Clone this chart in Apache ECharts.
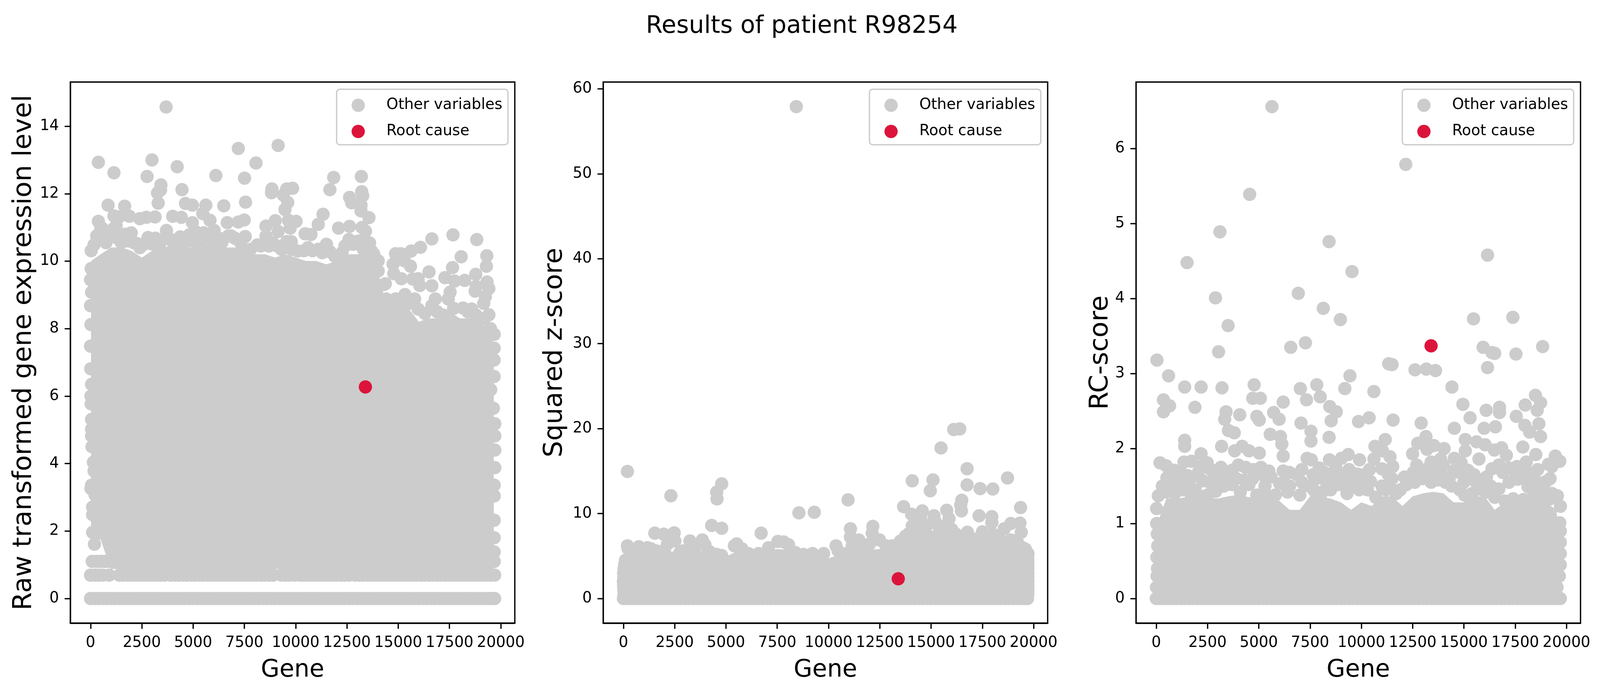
<!DOCTYPE html>
<html><head><meta charset="utf-8">
<script src="https://cdn.jsdelivr.net/npm/echarts@6/dist/echarts.min.js"></script>
<style>html,body{margin:0;padding:0;background:#fff;overflow:hidden}#c{width:100vw;height:100vh}</style>
</head><body><div id="c"></div>
<script>
const titleText = 'Results of patient R98254';
const xName = 'Gene';
const yNames = ['Raw transformed gene expression level', 'Squared z-score', 'RC-score'];
const legendNames = ['Other variables', 'Root cause'];
const geneTicks = [0,2500,5000,7500,10000,12500,15000,17500,20000];
const rawTicks = [0,2,4,6,8,10,12,14];
const zTicks = [0,10,20,30,40,50,60];
const rcTicks = [0,1,2,3,4,5,6];

const rootRaw = [[13400,6.27]];
const rootZ = [[13400,2.32]];
const rootRC = [[13399,3.37]];

/* genes of the solid horizontal rows of marks */
const fullRowGenes = [0,200,400,600,800,1000,1200,1400,1600,1800,2000,2200,2400,2600,2800,3000,3200,3400,3600,3800,4000,4200,4400,4600,4800,5000,5200,5400,5600,5800,6000,6200,6400,6600,6800,7000,7200,7400,7600,7800,8000,8200,8400,8600,8800,9000,9200,9400,9600,9800,10000,10200,10400,10600,10800,11000,11200,11400,11600,11800,12000,12200,12400,12600,12800,13000,13200,13400,13600,13800,14000,14200,14400,14600,14800,15000,15200,15400,15600,15800,16000,16200,16400,16600,16800,17000,17200,17400,17600,17800,18000,18200,18400,18600,18800,19000,19200,19400,19600,19700];
const rawRowOne = [0,200,400,600,900,1400,1600,1800,2000,2200,2400,2600,2800,3000,3200,3400,3600,3900,4100,4300,4500,4700,4900,5100,5300,5500,5700,5900,6100,6300,6500,6700,6900,7100,7300,7500,7700,7900,8100,8300,8500,8700,8900,9300,9500,9700,9950,10200,10400,10600,10800,11000,11200,11400,11600,11800,12000,12200,12400,12600,12900,13100,13300,13500,13700,13900,14100,14300,14500,14700,14900,15100,15300,15500,15700,15900,16100,16300,16500,16700,16900,17100,17300,17500,17700,17900,18100,18300,18500,18700,18900,19100,19300,19500,19700];
const rawRowTwo = [80,300,500,700,900,1100,1300,1500,1700,1900,2100,2300,2500,2700,2900,3100,3300,3500,3700,3900,4100,4300,4500,4700,4900,5100,5300,5500,5700,5900,6100,6300,6500,6700,6900,7100,7300,7500,7700,7900,8100,8300,8500,8700,8900,9100,9300,9500,9700,9900,10100,10300,10500,10700,10900,11100,11300,11500,11700,11900,12100,12300,12500,12700,12900,13100,13300,13500,13700,13900,14100,14300,14500,14700,14900,15100,15300,15500,15700,15900,16100,16300,16500,16700,16900,17100,17300,17500,17700,17900,18100,18300,18500,18700,18900,19100,19300,19500,19680];

/* solid core of each panel, read as gene / low / high */
const coreGenes = [30,500,1000,1500,2000,2500,3000,3500,4000,4500,5000,5500,6000,6500,7000,7500,8000,8500,9000,9500,10000,10500,11000,11500,12000,12500,13000,13500,14000,14500,15000,15500,16000,16500,17000,17500,18000,18500,19000,19500,19650];
const rawLow = [1.75,1.75,0.88,0.88,0.88,0.88,0.88,0.88,0.88,0.88,0.88,0.88,0.88,0.88,0.88,0.88,0.88,0.88,0.88,0.88,0.88,0.88,0.88,0.88,0.88,0.88,0.88,0.88,0.88,0.88,0.88,0.88,0.88,0.88,0.88,0.88,0.88,0.88,0.88,0.88,0.88];
const rawHigh = [10,10.2,10.4,10.4,10.3,10.1,10.3,10.5,10.3,10.4,10.4,10.5,10.5,10.4,10.4,10.4,10.2,10.2,10.1,10.2,10.1,10,10,9.9,10,10.2,10.2,10.2,9.7,8.5,8.6,8.6,8.2,8.3,8.3,8.5,8.3,8.3,8.2,7.9,7.5];
const zLow = [0,0,0,0,0,0,0,0,0,0,0,0,0,0,0,0,0,0,0,0,0,0,0,0,0,0,0,0,0,0,0,0,0,0,0,0,0,0,0,0,0];
const zHigh = [4,5.5,5.5,5.3,5.5,5.5,5.3,5.6,5.6,5.2,4.9,5.5,5.2,5.1,5.5,5.8,5.7,5,4.9,5,4.7,5.1,5.2,5.9,5.7,5.8,5.5,6.3,7.3,8.1,8,7.9,7.6,6.8,6.7,6.7,6.7,6.3,6.3,5.5,4.8];
const rcLow = zLow;
const rcHigh = [0.98,1.33,1.33,1.35,1.35,1.34,1.33,1.36,1.38,1.35,1.33,1.32,1.3,1.18,1.18,1.36,1.36,1.33,1.28,1.18,1.28,1.23,1.36,1.36,1.23,1.36,1.4,1.42,1.4,1.28,1.28,1.36,1.36,1.18,1.28,1.28,1.33,1.36,1.28,1.18,0.78];

const rawPoints = [[3684,14.57],[382,12.93],[1140,12.62],[2993,13],[2757,12.51],[4223,12.8],[3431,12.26],[3414,12.11],[3263,12.02],[3297,11.72],[4458,12.12],[6110,12.54],[7205,13.34],[7508,12.46],[8066,12.91],[9146,13.43],[8842,12.14],[8825,12.03],[9851,12.16],[9564,12.14],[9396,11.96],[11855,12.48],[11670,12.12],[13203,12.51],[13220,12.06],[13270,11.94],[12630,11.89],[12730,11.73],[13186,11.66],[13186,11.49],[13572,11.29],[854,11.66],[1663,11.63],[1140,11.34],[1390,11.31],[1896,11.33],[382,11.18],[553,10.98],[2403,11.26],[2723,11.3],[3145,11.31],[4004,11.33],[4425,11.3],[4964,11.14],[4627,11.71],[4964,11.66],[5621,11.66],[5470,11.41],[5823,11.21],[6496,11.64],[7557,11.75],[6665,11.14],[7205,11.16],[7491,11.22],[8552,11.04],[9007,11.2],[9480,11.53],[9615,11.74],[9648,11.21],[10020,11.18],[9146,10.88],[9733,10.98],[10460,10.81],[10745,10.79],[11335,11.39],[11100,11.09],[12090,10.98],[12630,11.03],[13237,11],[13405,10.89],[16640,10.66],[17670,10.78],[18830,10.64],[16085,10.41],[15630,10.3],[15125,10.22],[14870,10.22],[15300,10.01],[15600,9.85],[18070,10.13],[19320,10.16],[19300,9.85],[14750,9.91],[14785,9.63],[15155,9.48],[16500,9.68],[17650,9.81],[17280,9.51],[17750,9.41],[18240,9.43],[18780,9.61],[18800,9.25],[18750,9.11],[19330,9.38],[19420,9.19],[15710,9.47],[15970,9.48],[16050,9.28],[16640,9.27],[16810,8.88],[16640,8.68],[14370,9.33],[17530,9.08],[17440,8.88],[19250,8.95],[19170,8.75],[14420,8.88],[14870,8.88],[15330,9.01],[15800,8.88],[15970,8.58],[18160,8.61],[18580,8.58],[19420,8.41],[19680,7.83],
[30,10.31],[165,10.48],[635,10.68],[938,10.84],[1308,10.68],[1982,10.84],[2235,10.53],[2993,10.51],[3162,10.68],[3700,10.91],[4173,10.54],[4375,10.72],[4813,10.78],[5520,10.84],[6026,10.91],[6700,10.74],[7036,10.68],[7541,10.73],[8131,10.48],[8552,10.74],[8889,10.54],[9310,10.35],[9565,10.58],[9785,10.58],[10405,10.31],[10826,10.31],[11500,10.5],[11670,10.28],[12260,10.25],[12597,10.64],[12968,10.58],[13604,10.54],[13806,10.21],[14025,10.01],[14025,9.71],[14311,9.31],
[14700,8.6],[15100,8.7],[15500,8.75],[16300,8.45],[16900,8.5],[17200,8.4],[17700,8.6],[18400,8.5],[18800,8.4],[19200,8.3],[19500,8.0],
[30,9.78],[0,9.45],[50,9.08],[0,8.68],[20,8.12],[0,7.48],[10,6.81],[50,6.35],[20,6],[30,5.77],[50,5.31],[50,5.02],[50,4.82],[70,4.5],[140,4.04],[170,3.78],[50,3.36],[20,3.26],[220,3.07],[100,2.71],[100,2.48],[100,1.96],[190,1.61],
[19676,7.42],[19676,7.07],[19676,6.58],[19508,6.19],[19640,5.64],[19710,5.18],[19710,4.82],[19710,4.4],[19710,3.88],[19680,3.36],[19680,3.04],[19680,2.32],[19680,1.8],[19680,1.38],
[300,10.75],[500,11],[750,10.55],[1100,10.95],[1250,11.05],[1500,10.55],[1700,10.8],[1850,10.6],[2100,10.55],[2400,10.4],[2600,10.5],[2800,10.7],[3350,10.45],[3550,10.65],[3900,10.65],[4050,10.4],[4600,10.55],[5000,10.6],[5200,10.85],[5350,10.6],[5700,10.75],[5900,10.65],[6200,10.7],[6400,10.55],[6850,10.75],[7250,10.6],[7400,10.4],[7800,10.35],[8300,10.45],[8700,10.45],[9100,10.45],[9800,10.35],[10100,10.3],[10600,10.4],[11100,10.35],[11300,10.25],[11900,10.15],[12400,10.45],[12800,10.5],[13100,10.6],[13300,10.35],[13450,10.55],[13700,10.3]];

const zPoints = [[8430,57.9],[196,14.96],[2315,12.09],[4548,12.52],[4564,11.72],[4792,13.5],[4303,8.6],[4792,8.26],[1532,7.69],[1972,7.57],[2478,7.73],[2152,6.43],[2510,6.77],[6715,7.69],[8557,10.08],[9307,10.15],[10953,11.61],[11068,8.21],[11068,7.23],[12160,8.49],[12127,7.69],[13660,10.81],[14083,13.85],[15094,13.96],[14963,12.68],[14050,9.92],[14572,10.31],[14490,9.4],[14083,8.55],[15142,9.74],[15224,8.94],[15485,17.72],[16105,19.89],[16398,19.96],[16756,15.28],[16756,13.37],[17392,12.93],[18011,12.89],[18728,14.19],[16496,11.56],[16447,10.99],[16480,10.31],[15762,10.38],[15876,9.4],[16007,8.14],[17344,9.74],[17963,9.63],[17963,8.94],[19365,10.7],[19332,8.87],[18890,8.83],[18565,8.21],[19397,7.8],[16772,7.8],[17506,7.85],[13757,7.34],[18890,6.89],
[228,5.86],[196,6.2],[750,6.09],[1174,5.98],[1336,5.86],[3244,6.77],[3847,6.89],[3977,6.32],[2755,5.41],[4548,5.18],[4792,5.06],[5526,6.43],[5412,6.2],[5770,5.86],[6096,5.29],[6585,5.29],[7074,5.98],[7530,6.71],[7808,6.66],[8052,6.32],[8378,5.41],[8785,5.18],[9225,5.29],[9763,5.29],[10366,6.2],[10464,5.63],[10904,5.29],[11150,6.2],[11476,6.89],[12486,6.89],[13105,6.2],[13513,6.77],[19723,5.29],[19462,5.98],
[14400,8.3],[14800,8.6],[15400,8.4],[15700,8.5],[16200,7.6],[17000,6.9],[18200,7.2],[18000,7.6],[19000,6.8],
[30,0.5],[20,1],[10,1.5],[0,2],[20,2.5],[10,3],[30,3.5],[60,4],[100,4.5],[19720,0.5],[19720,1],[19720,1.5],[19720,2],[19720,2.5],[19720,3],[19720,3.5],[19720,4],[19720,4.5],[19710,5],
[500,5.7],[950,5.6],[1600,5.6],[2000,5.7],[2900,5.6],[3500,6.1],[3300,5.8],[4200,5.5],[13900,7.6],[14200,8],[15700,8.1],[16400,7.2],[17200,7],[17800,7],[18400,6.8],[19200,6.7],[19600,5.8],[12800,6.2],[12000,6.4],[11700,6.3],[11300,6.1]];

const rcPoints = [[5640,6.56],[12164,5.79],[4555,5.39],[3104,4.89],[8426,4.76],[1502,4.48],[16152,4.58],[9544,4.36],[6925,4.07],[2887,4.01],[8143,3.87],[8977,3.72],[3504,3.64],[15468,3.73],[17387,3.75],[7275,3.41],[6558,3.35],[3037,3.29],[33,3.18],[15935,3.35],[16369,3.28],[16500,3.27],[17537,3.26],[18838,3.36],[11330,3.13],[11497,3.12],[12615,3.05],[13165,3.06],[13616,3.04],[16152,3.08],[600,2.97],[9444,2.97],
[1385,2.82],[2186,2.82],[3204,2.81],[4772,2.85],[7025,2.8],[7826,2.85],[9194,2.8],[14417,2.82],[10612,2.76],[350,2.65],[651,2.57],[350,2.49],[1886,2.55],[4705,2.67],[5073,2.67],[7325,2.65],[7993,2.69],[6190,2.62],[14950,2.59],[18488,2.71],[18738,2.61],[17987,2.58],[18571,2.51],[16085,2.51],[16736,2.55],[16736,2.48],[8460,2.56],[8777,2.49],[8527,2.37],[3404,2.49],[3337,2.39],[4071,2.45],[4905,2.43],[5022,2.38],[5723,2.48],[5990,2.39],[7058,2.34],[7542,2.23],[9861,2.36],[10379,2.41],[11547,2.38],[12915,2.34],[15301,2.41],[14533,2.27],[15985,2.27],[16536,2.29],[17553,2.43],[17970,2.31],[18655,2.33],[18204,2.22],[18738,2.16],[3520,2.24],[3804,2.21],[5556,2.19],[6057,2.16],[7542,2.1],[8426,2.15],[1385,2.11],[1385,2.03],[6124,2.06],[3187,2.03],[11163,2.12],[13148,2.16],[15067,2.12],[15618,2.09],[16035,2.05],[12748,2.07],[14033,2],[13532,2.04],[13198,1.99],[17871,2.02],[16486,1.98],[16836,2.01],[10662,2.03],[15067,1.97],[17070,1.91],[18505,1.92],[19456,1.9],[12498,1.93],[5022,1.94],[2186,1.93],[4188,2.03],[3821,1.97],[4522,1.97],[6190,1.9],[9361,1.92],[11030,1.97],[11397,1.89],[13866,1.86],[15735,1.86],[14533,1.87],
[184,1.81],[484,1.77],[884,1.71],[1352,1.82],[1719,1.83],[2486,1.81],[2186,1.76],[3154,1.75],[3688,1.71],[7358,1.87],[7559,1.85],[8443,1.85],[9027,1.87],[9911,1.85],[10612,1.86],[11530,1.76],[11000,1.73],[12698,1.78],[13616,1.81],[14867,1.81],[14533,1.71],[15200,1.71],[16703,1.78],[16369,1.73],[17587,1.76],[17203,1.74],[19122,1.79],[19289,1.76],[19673,1.83],[18037,1.82],[5106,1.75],[5490,1.7],[5190,1.65],[6190,1.7],[7943,1.74],[517,1.61],[1519,1.64],[2269,1.57],[2853,1.63],[6858,1.65],[10195,1.66],[9161,1.66],[12531,1.68],[13165,1.68],[13866,1.67],[11497,1.6],[17620,1.59],[18288,1.67],[19005,1.56],[6023,1.53],[12198,1.52],[9661,1.56],[7442,1.5],[10445,1.56],[18121,1.49],[16703,1.46],[18872,1.46],[4522,1.52],[15033,1.38],[100,1.37],[19556,1.37],[17,1.2],[19706,1.23],[19673,1.01],
[500,1.42],[900,1.4],[1300,1.45],[1700,1.33],[2100,1.37],[2500,1.38],[2900,1.43],[3300,1.5],[3700,1.52],[4100,1.42],[4900,1.38],[5400,1.37],[5800,1.38],[6400,1.42],[7000,1.38],[7700,1.44],[8100,1.42],[8500,1.45],[8900,1.52],[9300,1.4],[9900,1.45],[10700,1.35],[11200,1.45],[11700,1.4],[12600,1.55],[13000,1.6],[13400,1.55],[13700,1.58],[14100,1.55],[14400,1.5],[14800,1.45],[15400,1.4],[15800,1.5],[16100,1.42],[16500,1.35],[17000,1.3],[17400,1.33],[17900,1.32],[18400,1.42],[18800,1.38],[19200,1.33],
[20,1],[50,0.86],[70,0.7],[30,0.55],[60,0.4],[40,0.3],[10,0.15],[19700,0.9],[19700,0.75],[19700,0.6],[19700,0.45],[19650,0.3],[19540,0.15],
[300,1.5],[700,1.55],[1100,1.55],[1550,1.5],[1900,1.45],[2600,1.55],[3000,1.55],[3500,1.62],[3900,1.6],[4300,1.58],[4700,1.6],[5300,1.5],[6200,1.55],[6500,1.5],[7100,1.55],[7800,1.6],[8300,1.55],[8700,1.62],[9000,1.55],[9500,1.52],[10000,1.55],[10300,1.45],[11000,1.5],[11400,1.48],[11900,1.45],[12900,1.65],[13300,1.75],[13600,1.65],[14000,1.6],[14300,1.62],[15000,1.55],[15300,1.62],[15600,1.55],[15900,1.45],[16300,1.5],[17200,1.55],[17500,1.6],[18000,1.6],[18600,1.55],[19300,1.4],
[700,1.68],[1150,1.7],[1750,1.62],[2050,1.68],[2650,1.72],[3300,1.68],[4000,1.78],[4350,1.75],[4750,1.72],[5600,1.62],[6500,1.68],[7100,1.72],[7650,1.65],[8200,1.68],[8750,1.75],[9400,1.72],[9800,1.66],[10400,1.72],[11300,1.66],[12100,1.62],[12800,1.72],[13400,1.82],[14000,1.78],[14800,1.68],[15500,1.65],[16100,1.62],[16900,1.68],[17900,1.68],[18600,1.72],[19200,1.6]];

const K = Math.min(1, window.innerWidth/4435);
const grids = [
 {left:195*K,top:210,width:1232*K,height:1385},
 {left:1672*K,top:210,width:1232*K,height:1385},
 {left:3149*K,top:210,width:1232*K,height:1385}];
const yRanges = [[-0.73,15.31],[-2.9,60.8],[-0.328,6.888]];
const yTickSets = [rawTicks,zTicks,rcTicks];
const yGaps = [92,98,62];
const GREY='#cccccc', RED='#dc143c', SIZE=34;
const FONT='DejaVu Sans';
const LW=3.33, TL=14.6, FS=41.67*K, LS=66.67;

function rows(genes,v){return genes.map(g=>[g,v]);}
const scatterSets = [
  rows(fullRowGenes,0).concat(rows(rawRowOne,0.693),rows(rawRowTwo,1.099),rawPoints),
  rows(fullRowGenes,0).concat(zPoints),
  rows(fullRowGenes,0).concat(rcPoints)];
const roots=[rootRaw,rootZ,rootRC];
const lows=[rawLow,zLow,rcLow], highs=[rawHigh,zHigh,rcHigh];

function coreData(low,high){
  const out=[];
  for(let i=0;i<coreGenes.length-1;i++)
    out.push([coreGenes[i],low[i],high[i],coreGenes[i+1],low[i+1],high[i+1]]);
  return out;
}
function renderCore(p,api){
  const a=api.coord([api.value(0),api.value(1)]),b=api.coord([api.value(0),api.value(2)]),
        c=api.coord([api.value(3),api.value(5)]),d=api.coord([api.value(3),api.value(4)]);
  return {type:'polygon',shape:{points:[a,b,c,d]},style:{fill:GREY,stroke:GREY,lineWidth:1}};
}

const xAxis=[],yAxis=[],series=[],legend=[];
grids.forEach((g,i)=>{
  xAxis.push({gridIndex:i,type:'value',min:-985,max:20685,name:xName,nameLocation:'middle',nameGap:90,
    nameTextStyle:{fontFamily:FONT,fontSize:LS*K,color:'#000'},
    splitLine:{show:false},axisLine:{onZero:false,lineStyle:{color:'#000',width:LW}},
    axisTick:{length:TL,lineStyle:{color:'#000',width:LW},customValues:geneTicks},
    axisLabel:{margin:32,fontFamily:FONT,fontSize:FS,color:'#000',customValues:geneTicks,showMinLabel:true,showMaxLabel:true,formatter:v=>String(v)}});
  yAxis.push({gridIndex:i,type:'value',min:yRanges[i][0],max:yRanges[i][1],name:yNames[i],nameLocation:'middle',nameGap:yGaps[i]*K,
    nameRotate:90,nameTextStyle:{fontFamily:FONT,fontSize:LS,color:'#000'},
    splitLine:{show:false},axisLine:{onZero:false,lineStyle:{color:'#000',width:LW}},
    axisTick:{length:TL,lineStyle:{color:'#000',width:LW},customValues:yTickSets[i]},
    axisLabel:{margin:29,fontFamily:FONT,fontSize:FS,color:'#000',customValues:yTickSets[i],showMinLabel:true,showMaxLabel:true,formatter:v=>String(v)}});
  series.push({type:'custom',name:legendNames[0],xAxisIndex:i,yAxisIndex:i,coordinateSystem:'cartesian2d',
    renderItem:renderCore,data:coreData(lows[i],highs[i]),encode:{x:[0,3],y:[1,2,4,5]},itemStyle:{color:GREY},silent:true,z:1,animation:false});
  series.push({type:'scatter',name:legendNames[0],xAxisIndex:i,yAxisIndex:i,data:scatterSets[i],symbol:'circle',symbolSize:SIZE,itemStyle:{color:GREY,opacity:1},silent:true,z:2,large:false,animation:false});
  series.push({type:'scatter',name:legendNames[1],xAxisIndex:i,yAxisIndex:i,data:roots[i],symbol:'circle',symbolSize:SIZE,itemStyle:{color:RED,opacity:1},silent:true,z:3,animation:false});
  legend.push({data:legendNames,orient:'vertical',align:'left',left:g.left+738*K,top:228.5,selectedMode:false,
    icon:'circle',itemWidth:SIZE,itemHeight:SIZE,itemGap:29,padding:[22,15.5*K,15,41.5*K],
    backgroundColor:'rgba(255,255,255,0.8)',borderColor:'#cccccc',borderWidth:3.33,borderRadius:8,
    textStyle:{fontFamily:FONT,fontSize:FS,color:'#000',padding:[0,0,0,54.5*K]}});
});

const chart=echarts.init(document.getElementById('c'),null,{renderer:'canvas'});
chart.setOption({
  animation:false,backgroundColor:'#fff',
  title:{text:titleText,left:2217*K,top:32,textAlign:'center',textStyle:{fontFamily:FONT,fontSize:LS*K,fontWeight:'normal',color:'#000'}},
  grid:grids.map(g=>Object.assign({},g,{show:true,borderColor:'#000',borderWidth:LW,backgroundColor:'#fff',containLabel:false})),
  xAxis,yAxis,series,legend
});
</script></body></html>
